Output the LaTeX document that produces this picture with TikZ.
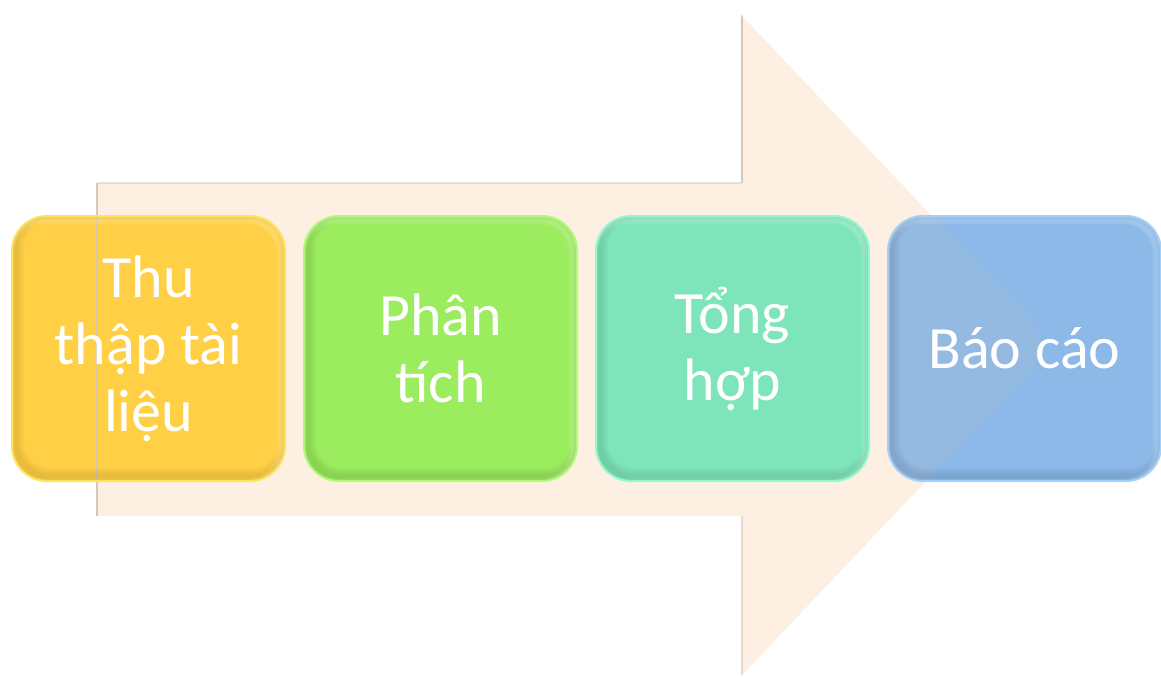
\documentclass[tikz,border=0pt]{standalone}
\usepackage{fontspec}
\setmainfont{Carlito}
\definecolor{peach}{HTML}{FDEFE1}
\definecolor{peachedge}{HTML}{D6C7B9}
\definecolor{yelf}{HTML}{FFD045}
\definecolor{yelb}{HTML}{FFE35C}
\definecolor{grnf}{HTML}{9BEC5E}
\definecolor{grnb}{HTML}{B0FA78}
\definecolor{tealf}{HTML}{7DE5B9}
\definecolor{tealb}{HTML}{92F8D0}
\definecolor{bluef}{HTML}{8CB9E8}
\definecolor{blueb}{HTML}{A3D0FB}
\tikzset{
  bevel/.code={
    \foreach \w in {18,14,10,6} {
      \draw[black, draw opacity=0.025, line width=\w pt, rounded corners=35pt]
        ([shift={(3pt,4pt)}]path picture bounding box.south west) rectangle
        ([shift={(3pt,4pt)}]path picture bounding box.north east);
    }
    \foreach \w in {10,6} {
      \draw[white, draw opacity=0.1, line width=\w pt, rounded corners=35pt]
        ([shift={(-3pt,-3pt)}]path picture bounding box.south west) rectangle
        ([shift={(-3pt,-3pt)}]path picture bounding box.north east);
    }
  },
  stepbox/.style={rectangle, rounded corners=35pt, minimum width=273pt, minimum height=265pt,
    line width=2pt, align=center, text=white, inner sep=0pt,
    font=\fontsize{60}{67}\selectfont, path picture={\tikzset{bevel}}},
  edgeseen/.style={path picture={
    \draw[peachedge, line width=1.2pt, draw opacity=0.9] (a7) -- (a1);
    \tikzset{bevel}
  }},
  headseen/.style={path picture={
    \fill[peachedge, fill opacity=0.12] (a1) -- (a2) -- (a3) -- (tip) -- (a5) -- (a6) -- (a7) -- cycle;
    \tikzset{bevel}
  }},
  shadowline/.style={draw=peachedge, line width=1.2pt},
}
\begin{document}
\begin{tikzpicture}[x=1pt,y=-1pt]
\useasboundingbox (0,0) rectangle (1161,678);
\fill[white] (0,0) rectangle (1161,678);
% big arrow
\coordinate (a1) at (97,183);
\coordinate (a2) at (742,183);
\coordinate (a3) at (742,15);
\coordinate (tip) at (1055,345);
\coordinate (a5) at (742,675);
\coordinate (a6) at (742,516);
\coordinate (a7) at (97,516);
\fill[peach] (a1) -- (a2) -- (a3) -- (tip) -- (a5) -- (a6) -- (a7) -- cycle;
\draw[shadowline] (a7) -- (a1);
\draw[shadowline, draw opacity=0.5] (a1) -- (a2);
\draw[shadowline] (a2) -- (a3);
\draw[shadowline, draw opacity=0.6] (a6) -- (a5);
\draw[white, line width=1pt] (a3) -- (tip);
% steps
\node[stepbox, fill=yelf, draw=yelb, edgeseen] (b1) at (148.5,348.5) {Thu\\thập tài\\liệu};
\node[stepbox, fill=grnf, draw=grnb] (b2) at (440.5,348.5) {Phân\\tích};
\node[stepbox, fill=tealf, draw=tealb] (b3) at (732.5,348.5) {Tổng\\hợp};
\node[stepbox, fill=bluef, draw=blueb, headseen] (b4) at (1024.5,348.5) {Báo cáo};
\end{tikzpicture}
\end{document}
